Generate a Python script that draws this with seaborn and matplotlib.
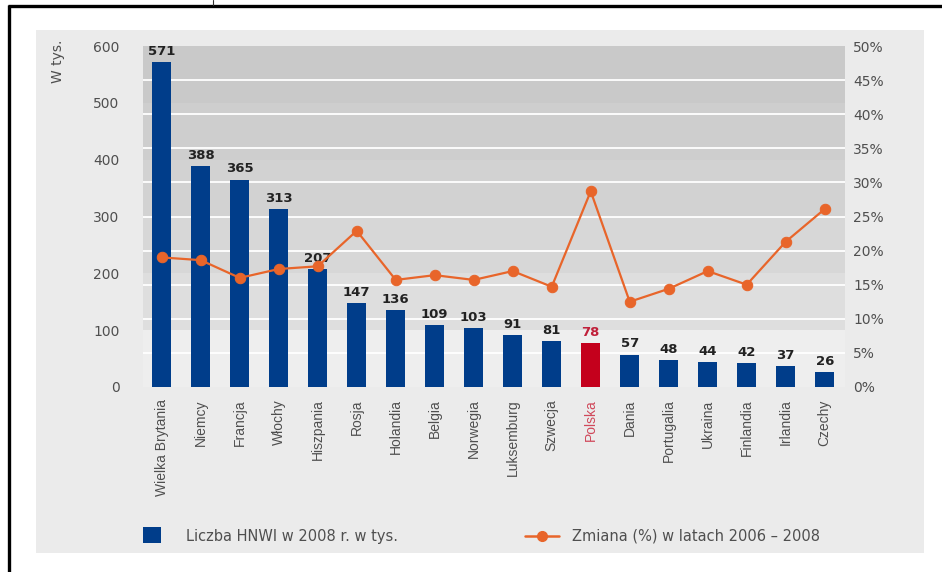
import numpy as np
import pandas as pd
import matplotlib
matplotlib.use("Agg")
import matplotlib.pyplot as plt
from matplotlib.patches import Rectangle
from matplotlib.lines import Line2D
from matplotlib.ticker import FuncFormatter
import seaborn as sns

# HNWI population in 2008 (thousands) and change 2006-2008 (%)
countries = ["Wielka Brytania", "Niemcy", "Francja", "Włochy", "Hiszpania", "Rosja",
             "Holandia", "Belgia", "Norwegia", "Luksemburg", "Szwecja", "Polska",
             "Dania", "Portugalia", "Ukraina", "Finlandia", "Irlandia", "Czechy"]
hnwi_2008 = [571, 388, 365, 313, 207, 147, 136, 109, 103, 91, 81, 78, 57, 48, 44, 42, 37, 26]
change_pct = [19.0, 18.6, 16.0, 17.3, 17.7, 22.9, 15.7, 16.4, 15.7, 17.0, 14.7, 28.7,
              12.5, 14.4, 17.0, 15.0, 21.3, 26.1]
left_ticks = [0, 100, 200, 300, 400, 500, 600]
right_ticks = [0, 5, 10, 15, 20, 25, 30, 35, 40, 45, 50]
highlight = "Polska"

NAVY = "#003d8a"
RED = "#c4001c"
ORANGE = "#e8652a"
TEXT = "#4f4f4f"
WIDE = ["DejaVu Sans"]
NARROW = ["Liberation Sans", "DejaVu Sans"]

sns.set_theme(style="white")
plt.rcParams["font.family"] = NARROW

W, H = 942, 572
fig = plt.figure(figsize=(W / 100, H / 100), dpi=100)
fig.patch.set_facecolor("white")

# light grey panel behind the whole chart
fig.add_artist(Rectangle((36 / W, 1 - 553 / H), (924 - 36) / W, (553 - 30) / H,
                         transform=fig.transFigure, facecolor="#ebebeb",
                         edgecolor="none", zorder=0))
# frame lines along top and left edge
fig.add_artist(Line2D([8 / W, 1.0], [1 - 6 / H, 1 - 6 / H], transform=fig.transFigure,
                      color="black", lw=2.4, solid_capstyle="butt"))
fig.add_artist(Line2D([8.5 / W, 8.5 / W], [0.0, 1 - 5 / H], transform=fig.transFigure,
                      color="black", lw=2.4, solid_capstyle="butt"))
fig.add_artist(Line2D([213 / W, 213 / W], [1 - 5 / H, 1.0], transform=fig.transFigure,
                      color="#333333", lw=0.8))

ax = fig.add_axes([143 / W, 1 - 387 / H, (845 - 143) / W, (387 - 46) / H])
ax.set_facecolor("none")

# graduated grey bands every 100 thousand
band_colors = ["#eeeeee", "#dedede", "#d7d7d7", "#d2d2d2", "#cecece", "#c9c9c9"]
for k, c in enumerate(band_colors):
    ax.axhspan(k * 100, (k + 1) * 100, color=c, lw=0, zorder=0)
# white grid lines every 5 % of the right axis
ymax = 600
for p in right_ticks[1:-1]:
    ax.axhline(p / 50 * ymax, color="white", lw=1.3, zorder=0.5)

df = pd.DataFrame({"kraj": countries, "hnwi": hnwi_2008, "zmiana": change_pct})
palette = {c: (RED if c == highlight else NAVY) for c in countries}
sns.barplot(data=df, x="kraj", y="hnwi", hue="kraj", palette=palette, legend=False,
            width=0.5, saturation=1, linewidth=0, ax=ax, zorder=2)

for i, (c, v) in enumerate(zip(countries, hnwi_2008)):
    ax.annotate(str(v), (i, v), xytext=(0, 3), textcoords="offset points",
                ha="center", va="bottom", fontsize=9.5, fontweight="bold",
                family=WIDE, color=("#c0203a" if c == highlight else "#222222"), zorder=3)

ax.set_xlim(-0.48, len(countries) - 0.48)
ax.set_ylim(0, ymax)
ax.set_yticks(left_ticks)
ax.set_ylabel("")
ax.set_xlabel("")
ax.tick_params(axis="y", length=0, pad=17, labelcolor=TEXT)
ax.tick_params(axis="x", length=0, pad=9, labelcolor=TEXT)
for lbl in ax.get_yticklabels():
    lbl.set_fontfamily(WIDE)
    lbl.set_fontsize(10)
ax.set_xticks(range(len(countries)))
ax.set_xticklabels(countries, rotation=90, va="top", ha="center", fontsize=10)
for lbl in ax.get_xticklabels():
    if lbl.get_text() == highlight:
        lbl.set_color("#d0485a")
for s in ax.spines.values():
    s.set_visible(False)

ax2 = ax.twinx()
sns.lineplot(x=np.arange(len(countries)), y=change_pct, ax=ax2, color=ORANGE, lw=1.6,
             marker="o", markersize=7.5, markeredgecolor=ORANGE, zorder=4)
ax2.set_ylim(0, 50)
ax2.set_yticks(right_ticks)
ax2.yaxis.set_major_formatter(FuncFormatter(lambda v, _: f"{int(v)}%"))
ax2.tick_params(axis="y", length=0, pad=6, labelcolor=TEXT)
for lbl in ax2.get_yticklabels():
    lbl.set_fontfamily(WIDE)
    lbl.set_fontsize(10)
ax2.set_ylabel("")
for s in ax2.spines.values():
    s.set_visible(False)

fig.text(58 / W, 1 - 40 / H, "W tys.", rotation=90, ha="center", va="top",
         fontsize=10, family=WIDE, color=TEXT)

# legend row
fig.add_artist(Rectangle((143 / W, 1 - 543 / H), 18 / W, 16 / H, transform=fig.transFigure,
                         facecolor=NAVY, edgecolor="none"))
fig.text(186 / W, 1 - 536 / H, "Liczba HNWI w 2008 r. w tys.", ha="left", va="center",
         fontsize=10.5, family=WIDE, color=TEXT)
fig.add_artist(Line2D([525 / W, 559 / W], [1 - 536 / H, 1 - 536 / H], transform=fig.transFigure,
                      color=ORANGE, lw=1.8))
fig.add_artist(Line2D([542 / W], [1 - 536 / H], transform=fig.transFigure, color=ORANGE,
                      marker="o", markersize=7, lw=0))
fig.text(572 / W, 1 - 536 / H, "Zmiana (%) w latach 2006 – 2008", ha="left", va="center",
         fontsize=10.5, family=WIDE, color=TEXT)

fig.savefig("out.png", dpi=100)
